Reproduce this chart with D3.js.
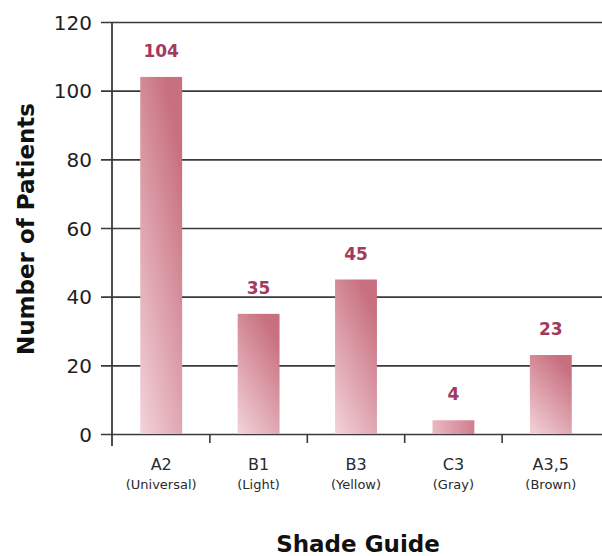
<!DOCTYPE html>
<html>
<head>
<meta charset="utf-8">
<script src="https://cdn.jsdelivr.net/npm/d3@7"></script>
<style>
  body { margin: 0; background: #fff; }
  svg { display: block; font-family: "DejaVu Sans", Arial, sans-serif; }
</style>
</head>
<body>
<svg id="chart" width="602" height="556"></svg>
<script>
// Shade guide distribution
const categories = ["A2", "B1", "B3", "C3", "A3,5"];
const subLabels = ["(Universal)", "(Light)", "(Yellow)", "(Gray)", "(Brown)"];
const patients = [104, 35, 45, 4, 23];
const yTicks = [0, 20, 40, 60, 80, 100, 120];

const svg = d3.select("#chart");
const margin = { left: 112, right: 2, top: 22, bottom: 122 };
const W = 602, H = 556;

const x = d3.scaleBand()
  .domain(categories)
  .range([margin.left, W - margin.right])
  .paddingInner(0.57)
  .paddingOuter(0.29);

const y = d3.scaleLinear()
  .domain([0, 120])
  .range([H - margin.bottom, margin.top]);

// Bar fill: light pink at lower left fading to deeper rose at upper right
const defs = svg.append("defs");
const grad = defs.append("linearGradient")
  .attr("id", "barGrad")
  .attr("x1", "0").attr("y1", "1")
  .attr("x2", "0.6").attr("y2", "0");
grad.append("stop").attr("offset", "0").attr("stop-color", "#f3d3da");
grad.append("stop").attr("offset", "1").attr("stop-color", "#c8707f");

const gradSmall = defs.append("linearGradient")
  .attr("id", "barGradH")
  .attr("x1", "0").attr("y1", "0.5")
  .attr("x2", "1").attr("y2", "0.5");
gradSmall.append("stop").attr("offset", "0").attr("stop-color", "#eab8c3");
gradSmall.append("stop").attr("offset", "1").attr("stop-color", "#cf7e8d");

// Horizontal grid lines with ticks left of the axis
const yAxis = d3.axisLeft(y)
  .tickValues(yTicks)
  .tickSize(0)
  .tickPadding(0)
  .tickFormat(d3.format("d"));

const gy = svg.append("g")
  .attr("transform", `translate(${margin.left - 11},0)`)
  .call(yAxis);
gy.select(".domain").remove();
gy.selectAll(".tick line")
  .attr("x1", 0)
  .attr("x2", W - margin.left + 11)
  .attr("stroke", "#3a3a3a")
  .attr("stroke-width", 1.6);
gy.selectAll(".tick text")
  .attr("x", -9)
  .attr("dy", "0.36em")
  .attr("fill", "#1e1e1e")
  .style("font-family", "'DejaVu Sans', sans-serif")
  .style("font-size", "20px");

// Bars
svg.append("g").selectAll("rect")
  .data(patients)
  .join("rect")
  .attr("x", (d, i) => x(categories[i]))
  .attr("y", d => y(d))
  .attr("width", x.bandwidth())
  .attr("height", d => y(0) - y(d))
  .attr("fill", d => d < 10 ? "url(#barGradH)" : "url(#barGrad)");

// Value labels
svg.append("g").selectAll("text")
  .data(patients)
  .join("text")
  .attr("x", (d, i) => x(categories[i]) + x.bandwidth() / 2)
  .attr("y", d => y(d) - 20)
  .attr("text-anchor", "middle")
  .attr("fill", "#a23a5e")
  .style("font-size", "17px")
  .style("font-weight", "bold")
  .text(d => d);

// Vertical axis line
svg.append("line")
  .attr("x1", margin.left).attr("x2", margin.left)
  .attr("y1", y(120)).attr("y2", y(0) + 12)
  .attr("stroke", "#3a3a3a")
  .attr("stroke-width", 1.8);

// Category boundary ticks below the baseline
const bounds = categories.slice(1).map(c => x(c) - x.step() * x.paddingInner() / 2);
svg.append("g").selectAll("line")
  .data(bounds)
  .join("line")
  .attr("x1", d => d).attr("x2", d => d)
  .attr("y1", y(0)).attr("y2", y(0) + 9)
  .attr("stroke", "#3a3a3a")
  .attr("stroke-width", 1.6);

// Category labels
const cx = (i) => x(categories[i]) + x.bandwidth() / 2;
svg.append("g").selectAll("text")
  .data(categories)
  .join("text")
  .attr("x", (d, i) => cx(i))
  .attr("y", 470)
  .attr("text-anchor", "middle")
  .attr("fill", "#2a2a2a")
  .style("font-size", "16px")
  .text(d => d);

svg.append("g").selectAll("text")
  .data(subLabels)
  .join("text")
  .attr("x", (d, i) => cx(i))
  .attr("y", 489)
  .attr("text-anchor", "middle")
  .attr("fill", "#2a2a2a")
  .style("font-size", "13px")
  .text(d => d);

// Axis titles
svg.append("text")
  .attr("transform", "translate(34,229) rotate(-90)")
  .attr("text-anchor", "middle")
  .attr("fill", "#111")
  .style("font-size", "23px")
  .style("font-weight", "bold")
  .text("Number of Patients");

svg.append("text")
  .attr("x", 358)
  .attr("y", 552)
  .attr("text-anchor", "middle")
  .attr("fill", "#111")
  .style("font-size", "23px")
  .style("font-weight", "bold")
  .text("Shade Guide");
</script>
</body>
</html>
